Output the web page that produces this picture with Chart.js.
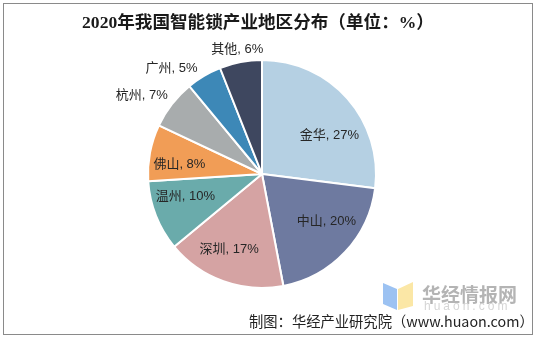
<!DOCTYPE html>
<html>
<head>
<meta charset="utf-8">
<script src="https://cdn.jsdelivr.net/npm/chart.js@4.4.1/dist/chart.umd.min.js"></script>
<style>
  html, body { margin: 0; padding: 0; background: #fff; }
  #wrap { position: relative; width: 536px; height: 337px; overflow: hidden; }
  #frame { position: absolute; left: 3px; top: 3px; width: 528px; height: 330px; border: 1px solid #8a8a8a; box-sizing: content-box; }
  #c { position: absolute; left: 0; top: 0; }
  .txt { position: absolute; white-space: nowrap; }
  #title { left: 0; width: 516px; top: 8px; text-align: center; font: bold 17.6px "Liberation Serif", "Noto Sans CJK SC", serif; color: #1a1a1a; }
  #wm { left: 422px; top: 280px; font: bold 19px "Noto Sans CJK SC", sans-serif; color: #b4b4b4; }
  #wm2 { left: 424px; top: 299px; font: 12px "Liberation Sans", sans-serif; color: #d6d6d6; letter-spacing: 3px; }
  #logo { position: absolute; left: 382px; top: 280px; }
  #source { left: 249px; top: 310px; font: 14.3px "Noto Sans CJK SC", sans-serif; color: #222; }
</style>
</head>
<body>
<div id="wrap">
  <canvas id="c" width="536" height="337"></canvas>
  <svg id="logo" width="34" height="30">
    <polygon points="1,3 15,9 15,30 1,24" fill="#9cc2f2"/>
    <polygon points="16,9 31,2 31,26 16,30" fill="#fbe7a6"/>
  </svg>
  <div class="txt" id="wm">华经情报网</div>
  <div class="txt" id="wm2">huaon.com</div>
  <div class="txt" id="title">2020年我国智能锁产业地区分布（单位：%）</div>
  <div class="txt" id="source">制图：华经产业研究院（www.huaon.com）</div>
  <div id="frame"></div>
</div>
<script>
// Regions and their share of the smart-lock industry (%)
const regions = ['金华', '中山', '深圳', '温州', '佛山', '杭州', '广州', '其他'];
const shares = [27, 20, 17, 10, 8, 7, 5, 6];
const sliceColors = ['#b5d0e3', '#6e7aa0', '#d5a3a3', '#6aabab', '#f19d56', '#a8acad', '#3d88b7', '#3e475f'];

// Label placement per slice: [angle shift in degrees from the slice middle, distance as a fraction of the radius]
const labelPlacement = [[11.7, 0.68], [-7.1, 0.70], [3.8, 0.72], [5.1, 0.70], [-3.9, 0.73], [-4.6, 1.26], [-10, 1.22], [-0.5, 1.11]];

const sliceLabels = {
  id: 'sliceLabels',
  afterDatasetsDraw(chart) {
    const ctx = chart.ctx;
    const meta = chart.getDatasetMeta(0);
    ctx.save();
    ctx.font = '13px "Liberation Sans", "Noto Sans CJK SC", sans-serif';
    ctx.fillStyle = '#262626';
    ctx.textAlign = 'center';
    ctx.textBaseline = 'middle';
    meta.data.forEach((arc, i) => {
      const p = arc.getProps(['x', 'y', 'startAngle', 'endAngle', 'outerRadius'], true);
      const [shift, frac] = labelPlacement[i];
      const a = (p.startAngle + p.endAngle) / 2 + shift * Math.PI / 180;
      const r = p.outerRadius * frac;
      ctx.fillText(regions[i] + ', ' + shares[i] + '%', p.x + Math.cos(a) * r, p.y + Math.sin(a) * r);
    });
    ctx.restore();
  }
};

new Chart(document.getElementById('c'), {
  type: 'pie',
  data: {
    labels: regions,
    datasets: [{
      data: shares,
      backgroundColor: sliceColors,
      borderColor: '#ffffff',
      borderWidth: 2
    }]
  },
  options: {
    responsive: false,
    animation: false,
    layout: { padding: { left: 147, right: 159, top: 59, bottom: 48 } },
    plugins: {
      legend: { display: false },
      tooltip: { enabled: false },
      title: { display: false }
    }
  },
  plugins: [sliceLabels]
});
</script>
</body>
</html>
